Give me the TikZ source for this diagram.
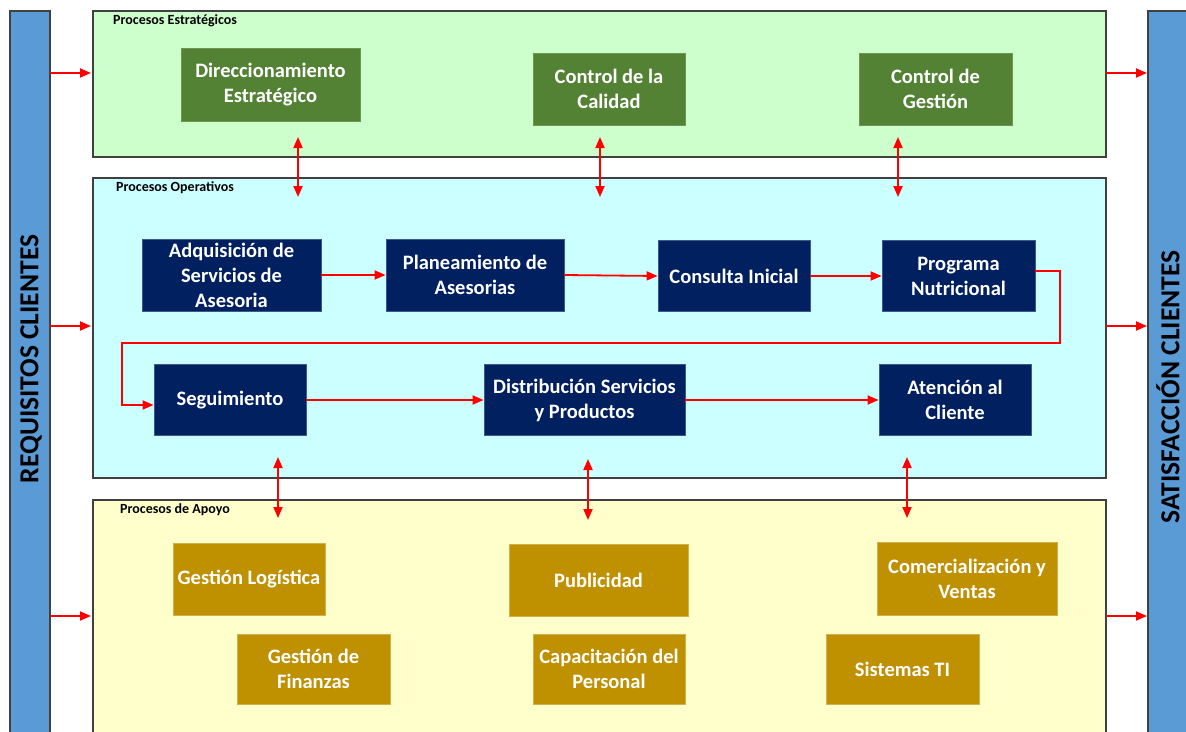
\documentclass[tikz,border=0pt]{standalone}
\usepackage{fontspec}
\setmainfont{Carlito}
\usetikzlibrary{arrows.meta}
\definecolor{barblue}{HTML}{5B9BD5}
\definecolor{edgegray}{HTML}{404040}
\definecolor{estfill}{HTML}{CCFFCC}
\definecolor{opefill}{HTML}{CCFFFF}
\definecolor{apofill}{HTML}{FFFFCC}
\definecolor{estnode}{HTML}{548235}
\definecolor{openode}{HTML}{002060}
\definecolor{aponode}{HTML}{BF9000}
\definecolor{flowred}{HTML}{FF0000}
\tikzset{
  bar/.style={draw=edgegray, line width=1.2pt, fill=barblue},
  bartext/.style={rotate=90, font=\bfseries\fontsize{27.5}{31}\selectfont, text=black, inner sep=0pt},
  group/.style={draw=edgegray, line width=1.2pt},
  grouplabel/.style={anchor=west, font=\bfseries\fontsize{14}{16}\selectfont, inner sep=0pt},
  proc/.style={inner sep=2pt, align=center, text=white,
    font=\bfseries\fontsize{20.5}{25}\selectfont, line width=0.8pt},
  estproc/.style={proc, fill=estnode, draw=estnode!85!white},
  opeproc/.style={proc, fill=openode, draw=openode!75!white},
  apoproc/.style={proc, fill=aponode, draw=aponode!70!white},
  arr/.style={draw=flowred, line width=1.8pt, -{Triangle[length=11pt,width=9pt]}},
  darr/.style={draw=flowred, line width=1.8pt, {Triangle[length=11pt,width=9pt]}-{Triangle[length=11pt,width=9pt]}},
}
\begin{document}
\begin{tikzpicture}[x=1pt, y=-1pt]
\useasboundingbox (0,0) rectangle (1186,731);
\fill[white] (0,0) rectangle (1186,731);
\begin{scope}
\clip (0,0) rectangle (1186,731);

% side bars
\draw[bar] (10,11) rectangle (50,760);
\draw[bar] (1148,11) rectangle (1200,760);
\node[bartext] (req) at (31,359) {REQUISITOS CLIENTES};
\node[bartext] (sat) at (1168,387) {SATISFACCIÓN CLIENTES};
\coordinate (reqbar) at (50,0);
\coordinate (satbar) at (1148,0);

% process groups
\draw[group, fill=estfill] (93,11) rectangle (1106,157);
\draw[group, fill=opefill] (93,178) rectangle (1106,478);
\draw[group, fill=apofill] (93,500) rectangle (1106,760);
\coordinate (grpL) at (93,0);
\coordinate (grpR) at (1106,0);
\node[grouplabel] (lest) at (113,21) {Procesos Estratégicos};
\node[grouplabel] (lope) at (116,188) {Procesos Operativos};
\node[grouplabel] (lapo) at (120,510) {Procesos de Apoyo};

% strategic processes
\node[estproc, minimum width=179pt, minimum height=73pt] (dir) at (270.5,84.5) {Direccionamiento\\Estratégico};
\node[estproc, minimum width=152pt, minimum height=72pt] (cal) at (609,89) {Control de la\\Calidad};
\node[estproc, minimum width=153pt, minimum height=72pt] (ges) at (935.5,89) {Control de\\Gestión};

% operational processes
\node[opeproc, minimum width=179pt, minimum height=72pt] (adq) at (231.5,275) {Adquisición de\\Servicios de\\Asesoria};
\node[opeproc, minimum width=178pt, minimum height=72pt] (pla) at (475,275) {Planeamiento de\\Asesorias};
\node[opeproc, minimum width=152pt, minimum height=71pt] (con) at (734,276) {Consulta Inicial};
\node[opeproc, minimum width=153pt, minimum height=71pt] (pro) at (958.5,276) {Programa\\Nutricional};
\node[opeproc, minimum width=152pt, minimum height=71pt] (seg) at (230,400) {Seguimiento};
\node[opeproc, minimum width=201pt, minimum height=71pt] (dis) at (584.5,400) {Distribución Servicios\\y Productos};
\node[opeproc, minimum width=152pt, minimum height=71pt] (ate) at (955,400) {Atención al\\Cliente};

% support processes
\node[apoproc, minimum width=152pt, minimum height=72pt] (log) at (249,579) {Gestión Logística};
\node[apoproc, minimum width=179pt, minimum height=72pt] (pub) at (598.5,580) {Publicidad};
\node[apoproc, minimum width=180pt, minimum height=73pt] (com) at (967,578.5) {Comercialización y\\Ventas};
\node[apoproc, minimum width=153pt, minimum height=70pt] (fin) at (313.5,669) {Gestión de\\Finanzas};
\node[apoproc, minimum width=152pt, minimum height=70pt] (cap) at (609,669) {Capacitación del\\Personal};
\node[apoproc, minimum width=153pt, minimum height=70pt] (sis) at (902.5,669) {Sistemas TI};

% inputs and outputs
\foreach \yy in {73,326,616} {
  \draw[arr] (reqbar |- 0,\yy) -- ([xshift=-2pt]grpL |- 0,\yy);
  \draw[arr] (grpR |- 0,\yy) -- ([xshift=-1pt]satbar |- 0,\yy);
}

% links between strategic and operational levels
\coordinate (s1a) at (298,137); \coordinate (s1b) at (298,197);
\coordinate (s2a) at (600,137); \coordinate (s2b) at (600,197);
\coordinate (s3a) at (898,137); \coordinate (s3b) at (898,197);
\draw[darr] (s1a) -- (s1b);
\draw[darr] (s2a) -- (s2b);
\draw[darr] (s3a) -- (s3b);

% links between operational and support levels
\coordinate (a1a) at (278,457); \coordinate (a1b) at (278,518);
\coordinate (a2a) at (588,459); \coordinate (a2b) at (588,520);
\coordinate (a3a) at (907,457); \coordinate (a3b) at (907,518);
\draw[darr] (a1a) -- (a1b);
\draw[darr] (a2a) -- (a2b);
\draw[darr] (a3a) -- (a3b);

% operational flow
\draw[arr] (adq.east) -- (pla.west);
\draw[arr] (pla.east) -- (con.west);
\draw[arr] (con.east) -- (pro.west);
\coordinate (loopR) at (1060,343);
\coordinate (loopL) at (122,343);
\draw[arr] ([yshift=5pt]pro.east) -| (loopR) -- (loopL) |- ([yshift=-5pt]seg.west);
\draw[arr] (seg.east) -- (dis.west);
\draw[arr] (dis.east) -- (ate.west);
\end{scope}
\end{tikzpicture}
\end{document}
